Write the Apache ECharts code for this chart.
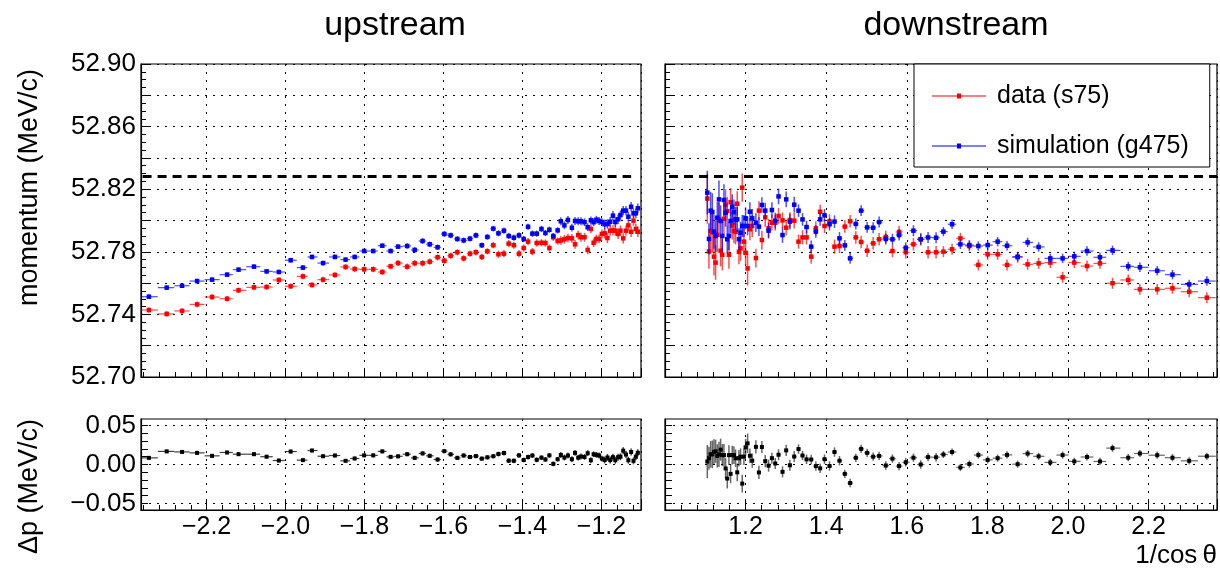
<!DOCTYPE html>
<html>
<head>
<meta charset="utf-8">
<script src="https://cdn.jsdelivr.net/npm/echarts@6.0.0/dist/echarts.min.js"></script>
<style>
  html, body { margin: 0; padding: 0; background: #fff; }
  #chart { width: 1220px; height: 571px; }
</style>
</head>
<body>
<div id="chart"></div>
<script>
// upstream bins (1/cos theta) and fitted momentum (MeV/c)
const upX = [-2.346, -2.301, -2.262, -2.224, -2.186, -2.148, -2.119, -2.080, -2.048, -2.017, -1.987, -1.956, -1.933, -1.905, -1.875, -1.848, -1.825, -1.801, -1.778, -1.755, -1.734, -1.715,
  -1.692, -1.673, -1.653, -1.635, -1.615, -1.598, -1.582, -1.565, -1.549, -1.533, -1.518, -1.503, -1.489, -1.474, -1.461, -1.447, -1.435, -1.422, -1.409, -1.397,
  -1.386, -1.375, -1.364, -1.352, -1.342, -1.332, -1.322, -1.311, -1.303, -1.294, -1.285, -1.275, -1.267, -1.259, -1.252, -1.243, -1.235, -1.227, -1.220, -1.213,
  -1.206, -1.199, -1.192, -1.185, -1.178, -1.171, -1.165, -1.158, -1.152, -1.145, -1.138, -1.132, -1.125, -1.119, -1.113, -1.108];
const upSim = [52.7513, 52.7571, 52.7583, 52.7613, 52.7622, 52.7654, 52.7686, 52.7705, 52.7675, 52.7671, 52.7746, 52.7699, 52.7767, 52.7728, 52.7767, 52.7750, 52.7767, 52.7805, 52.7805, 52.7839, 52.7805, 52.7833,
  52.7837, 52.7812, 52.7869, 52.7848, 52.7829, 52.7914, 52.7905, 52.7882, 52.7873, 52.7884, 52.7905, 52.7842, 52.7895, 52.7948, 52.7918, 52.7935, 52.7901, 52.7890, 52.7905, 52.7882,
  52.7960, 52.7916, 52.7916, 52.7946, 52.7920, 52.7941, 52.7901, 52.7937, 52.7995, 52.7969, 52.8003, 52.7954, 52.7997, 52.7995, 52.7995, 52.7989, 52.7957, 52.8001, 52.7989, 52.8005,
  52.7997, 52.7990, 52.7976, 52.7978, 52.7992, 52.8031, 52.7990, 52.8008, 52.8035, 52.8063, 52.8063, 52.8024, 52.8088, 52.8046, 52.8046, 52.8078];
const upData = [52.7428, 52.7403, 52.7422, 52.7464, 52.7511, 52.7500, 52.7554, 52.7573, 52.7575, 52.7620, 52.7580, 52.7643, 52.7588, 52.7622, 52.7652, 52.7703, 52.7690, 52.7688, 52.7688, 52.7671, 52.7707, 52.7728,
  52.7705, 52.7727, 52.7727, 52.7737, 52.7765, 52.7743, 52.7775, 52.7797, 52.7758, 52.7788, 52.7797, 52.7767, 52.7803, 52.7842, 52.7784, 52.7788, 52.7852, 52.7842, 52.7788, 52.7824,
  52.7865, 52.7801, 52.7856, 52.7858, 52.7856, 52.7824, 52.7893, 52.7869, 52.7873, 52.7880, 52.7888, 52.7886, 52.7848, 52.7907, 52.7893, 52.7893, 52.7812, 52.7946, 52.7858, 52.7882,
  52.7882, 52.7914, 52.7918, 52.7888, 52.7935, 52.7937, 52.7935, 52.7914, 52.7935, 52.7886, 52.7935, 52.7969, 52.7928, 52.7999, 52.7946, 52.7928];
const upSimErr = [0.0015, 0.0015, 0.0015, 0.0015, 0.0015, 0.0015, 0.0015, 0.0015, 0.0015, 0.0015, 0.0015, 0.0015, 0.0015, 0.0015, 0.0015, 0.0015, 0.0015, 0.0015, 0.0015, 0.0015, 0.0015, 0.0015,
  0.0018, 0.0018, 0.0018, 0.0018, 0.0018, 0.0018, 0.0018, 0.0018, 0.0018, 0.0018, 0.0018, 0.0018, 0.0018, 0.0018, 0.002, 0.002, 0.002, 0.002, 0.002, 0.002,
  0.002, 0.002, 0.002, 0.002, 0.002, 0.002, 0.002, 0.002, 0.0025, 0.0025, 0.0025, 0.0025, 0.0025, 0.0025, 0.0025, 0.0025, 0.0025, 0.0025, 0.0025, 0.0025,
  0.0025, 0.0025, 0.003, 0.003, 0.003, 0.003, 0.003, 0.003, 0.003, 0.003, 0.003, 0.003, 0.003, 0.003, 0.003, 0.003];
const upDataErr = [0.0018, 0.0018, 0.0018, 0.0018, 0.0018, 0.0018, 0.0018, 0.0018, 0.0018, 0.0018, 0.0018, 0.0018, 0.0018, 0.0018, 0.0018, 0.0018, 0.0018, 0.0018, 0.0018, 0.0018, 0.0018, 0.0018,
  0.002, 0.002, 0.002, 0.002, 0.002, 0.002, 0.002, 0.002, 0.002, 0.002, 0.002, 0.002, 0.002, 0.002, 0.0023, 0.0023, 0.0023, 0.0023, 0.0023, 0.0023,
  0.0023, 0.0023, 0.0023, 0.0023, 0.0023, 0.0023, 0.0023, 0.0023, 0.0028, 0.0028, 0.0028, 0.0028, 0.0028, 0.0028, 0.0028, 0.0028, 0.0028, 0.0028, 0.0028, 0.0028,
  0.0028, 0.0028, 0.0033, 0.0033, 0.0033, 0.0033, 0.0033, 0.0033, 0.0033, 0.0033, 0.0033, 0.0033, 0.0033, 0.0033, 0.0033, 0.0033];

// downstream bins
const downX = [1.1050, 1.1091, 1.1132, 1.1174, 1.1215, 1.1256, 1.1298, 1.1339, 1.1380, 1.1422, 1.1463, 1.1504, 1.1545, 1.1587, 1.1628, 1.1669, 1.1711, 1.1752, 1.1793, 1.1835, 1.1876, 1.1917, 1.1959, 1.2000,
  1.2050, 1.2107, 1.2165, 1.2256, 1.2331, 1.2405, 1.2488, 1.2570, 1.2653, 1.2736, 1.2818, 1.2917, 1.3008, 1.3099, 1.3207,
  1.3314, 1.3413, 1.3513, 1.3628, 1.3744, 1.3851, 1.3959, 1.4083, 1.4207, 1.4331, 1.4463, 1.4595, 1.4736, 1.4868, 1.5017, 1.5166, 1.5314, 1.5480, 1.5645, 1.5810, 1.5976, 1.6166, 1.6347, 1.6529, 1.6728,
  1.6910, 1.7125, 1.7331, 1.7554, 1.7777, 1.8008, 1.8256, 1.8489, 1.8752, 1.9000, 1.9273, 1.9563, 1.9868, 2.0158, 2.0473, 2.0795, 2.1107, 2.1497, 2.1787, 2.2216, 2.2595, 2.3009, 2.3448];
const downSim = [52.8178, 52.7882, 52.8063, 52.8054, 52.7929, 52.7901, 52.8018, 52.8135, 52.7997, 52.7901, 52.8131, 52.8050, 52.7880, 52.7901, 52.7997, 52.8088, 52.8054, 52.8007, 52.8007, 52.7880, 52.7922, 52.7965, 52.7965, 52.8014,
  52.7965, 52.8056, 52.8014, 52.7986, 52.7961, 52.8099, 52.8063, 52.7935, 52.8067, 52.7999, 52.8154, 52.7907, 52.8135, 52.7993, 52.8101,
  52.8063, 52.8007, 52.7958, 52.7833, 52.7929, 52.8007, 52.8033, 52.7976, 52.7993, 52.7886, 52.7841, 52.7758, 52.7978, 52.8063, 52.7956, 52.7954, 52.7990, 52.7882, 52.7880, 52.7907, 52.7826, 52.7935, 52.7880, 52.7892, 52.7890,
  52.7929, 52.7976, 52.7848, 52.7843, 52.7837, 52.7843, 52.7865, 52.7839, 52.7769, 52.7860, 52.7831, 52.7758, 52.7758, 52.7771, 52.7805, 52.7765, 52.7809, 52.7707, 52.7701, 52.7679, 52.7654, 52.7592, 52.7613];
const downData = [52.8140, 52.7802, 52.7933, 52.7924, 52.7769, 52.7731, 52.7908, 52.8005, 52.7807, 52.7781, 52.8011, 52.8100, 52.8060, 52.7781, 52.8117, 52.7968, 52.7934, 52.7927, 52.8107, 52.7800, 52.7822, 52.8210, 52.7865, 52.7794,
  52.7694, 52.7944, 52.7965, 52.7760, 52.8063, 52.7875, 52.8020, 52.7950, 52.7986, 52.7986, 52.8029, 52.8001, 52.7954, 52.8003, 52.7999,
  52.7865, 52.7892, 52.7892, 52.7769, 52.7950, 52.8056, 52.7965, 52.7995, 52.7833, 52.7837, 52.7961, 52.7995, 52.7892, 52.7863, 52.7807, 52.7854, 52.7880, 52.7895, 52.7805, 52.7927, 52.7797, 52.7848, 52.7880, 52.7797, 52.7797,
  52.7801, 52.7816, 52.7886, 52.7837, 52.7716, 52.7784, 52.7784, 52.7716, 52.7765, 52.7720, 52.7726, 52.7731, 52.7637, 52.7731, 52.7709, 52.7726, 52.7599, 52.7620, 52.7560, 52.7560, 52.7567, 52.7545, 52.7507];
const downSimErr = [0.014, 0.010, 0.012, 0.012, 0.011, 0.010, 0.010, 0.012, 0.010, 0.010, 0.010, 0.009, 0.009, 0.009, 0.008, 0.008, 0.008, 0.008, 0.008, 0.007, 0.007, 0.007, 0.007, 0.007,
  0.006, 0.006, 0.006, 0.006, 0.006, 0.005, 0.005, 0.005, 0.005, 0.005, 0.005, 0.005, 0.005, 0.005, 0.005,
  0.004, 0.004, 0.004, 0.004, 0.004, 0.004, 0.004, 0.004, 0.004, 0.004, 0.0035, 0.0035, 0.0035, 0.0035, 0.0035, 0.0035, 0.0035, 0.0035, 0.0035, 0.0035, 0.0035, 0.0035, 0.0035, 0.0035, 0.0035,
  0.003, 0.003, 0.003, 0.003, 0.003, 0.003, 0.003, 0.003, 0.003, 0.003, 0.003, 0.003, 0.003, 0.003, 0.003, 0.003, 0.003, 0.003, 0.003, 0.003, 0.003, 0.003, 0.003];
const downDataErr = [0.016, 0.011, 0.012, 0.013, 0.012, 0.011, 0.011, 0.011, 0.010, 0.010, 0.010, 0.010, 0.009, 0.009, 0.009, 0.009, 0.008, 0.008, 0.008, 0.008, 0.008, 0.009, 0.008, 0.008,
  0.011, 0.007, 0.007, 0.006, 0.006, 0.006, 0.006, 0.006, 0.005, 0.005, 0.005, 0.005, 0.005, 0.005, 0.005,
  0.0045, 0.0045, 0.0045, 0.0045, 0.0045, 0.0045, 0.0045, 0.0045, 0.0045, 0.0045, 0.004, 0.004, 0.004, 0.004, 0.004, 0.004, 0.004, 0.004, 0.004, 0.004, 0.004, 0.004, 0.004, 0.004, 0.004,
  0.0035, 0.0035, 0.0035, 0.0035, 0.0035, 0.0035, 0.0035, 0.0035, 0.0035, 0.0035, 0.0035, 0.0035, 0.0035, 0.0035, 0.0035, 0.0035, 0.0035, 0.0035, 0.0035, 0.0035, 0.0035, 0.0035, 0.0035];

// reference momentum (dashed line) and axis ranges
const refMomentum = 52.828;
const upRefSpan = [-2.362, -1.125];
const downRefSpan = [1.01, 2.37];
const upRange = [-2.366, -1.1];
const downRange = [1.0, 2.37];
const pRange = [52.70, 52.90];
const dpRange = [-0.0583, 0.0583];
const dpLabels = [-0.05, 0, 0.05];
const dpTicks = [-0.05, -0.04, -0.03, -0.02, -0.01, 0, 0.01, 0.02, 0.03, 0.04, 0.05];

const FONT = '"Liberation Sans", Arial, Helvetica, sans-serif';
const RED = '#ff0000', BLUE = '#0000ff';

// bin edges: halfway to the neighbouring bin centres
function binEdges(xs) {
  const n = xs.length;
  return xs.map((x, i) => {
    const lo = i > 0 ? (xs[i - 1] + x) / 2 : x - (xs[1] - xs[0]) / 2;
    const hi = i < n - 1 ? (x + xs[i + 1]) / 2 : x + (xs[n - 1] - xs[n - 2]) / 2;
    return [lo, hi];
  });
}

function points(xs, ys, errs) {
  const e = binEdges(xs);
  return xs.map((x, i) => [x, ys[i], e[i][0], e[i][1], errs[i]]);
}

// residual = simulation - data
function residuals(xs, sim, data, es, ed) {
  const e = binEdges(xs);
  return xs.map((x, i) => [x, sim[i] - data[i], e[i][0], e[i][1], Math.sqrt(es[i] * es[i] + ed[i] * ed[i])]);
}

function errRender(color, barOpacity, size) {
  return function (params, api) {
    const x = api.value(0), y = api.value(1);
    const c = api.coord([x, y]);
    const l = api.coord([api.value(2), y]);
    const r = api.coord([api.value(3), y]);
    const t = api.coord([x, y + api.value(4)]);
    const b = api.coord([x, y - api.value(4)]);
    return {
      type: 'group',
      children: [
        { type: 'line', shape: { x1: l[0], y1: c[1], x2: r[0], y2: c[1] }, style: { stroke: color, lineWidth: 1.2, opacity: barOpacity } },
        { type: 'line', shape: { x1: c[0], y1: t[1], x2: c[0], y2: b[1] }, style: { stroke: color, lineWidth: 1.5, opacity: barOpacity } },
        { type: 'rect', shape: { x: c[0] - size / 2, y: c[1] - size / 2, width: size, height: size }, style: { fill: color } }
      ]
    };
  };
}

const dotted = { color: '#000', type: [2, 6], width: 1 };

function refLine(span) {
  return {
    silent: true, symbol: ['none', 'none'], label: { show: false }, animation: false,
    lineStyle: { color: '#000', type: [9, 6], width: 3 },
    data: [[{ coord: [span[0], refMomentum] }, { coord: [span[1], refMomentum] }]]
  };
}

const zeroLines = {
  silent: true, symbol: ['none', 'none'], label: { show: false }, animation: false,
  lineStyle: dotted,
  data: dpLabels.map(v => ({ yAxis: v }))
};

const fmtX = v => (v < 0 ? '\u2212' : '') + Math.abs(v).toFixed(1);
const fmtDp = v => (v < -1e-9 ? '\u2212' : '') + Math.abs(v).toFixed(2);

function xAxisCfg(grid, range, labels) {
  return {
    type: 'value', gridIndex: grid, min: range[0], max: range[1], splitNumber: 6,
    axisLine: { show: true, onZero: false, lineStyle: { color: '#000', width: 1.2 } },
    axisTick: { show: true, inside: true, length: 9, lineStyle: { color: '#000' } },
    minorTick: { show: true, splitNumber: 5, length: 5, lineStyle: { color: '#000' } },
    splitLine: { show: true, lineStyle: dotted },
    axisLabel: { show: labels, showMinLabel: false, showMaxLabel: false, formatter: fmtX, fontSize: 25, color: '#000', fontFamily: FONT, margin: 5 }
  };
}

function pAxisCfg(grid, labels) {
  return {
    type: 'value', gridIndex: grid, min: pRange[0], max: pRange[1], interval: 0.02,
    axisLine: { show: true, onZero: false, lineStyle: { color: '#000', width: 1.2 } },
    axisTick: { show: true, inside: true, length: 9, lineStyle: { color: '#000' } },
    minorTick: { show: true, splitNumber: 4, length: 5, lineStyle: { color: '#000' } },
    splitLine: { show: true, lineStyle: dotted },
    axisLabel: {
      show: labels, fontSize: 26, color: '#000', fontFamily: FONT, margin: 5,
      formatter: v => (Math.round(v * 100) % 4 === 2 ? v.toFixed(2) : '')
    }
  };
}

function dpAxisCfg(grid, labels) {
  return {
    type: 'value', gridIndex: grid, min: dpRange[0], max: dpRange[1],
    axisLine: { show: true, onZero: false, lineStyle: { color: '#000', width: 1.2 } },
    axisTick: { show: true, inside: true, length: 7, customValues: dpTicks, lineStyle: { color: '#000' } },
    splitLine: { show: false },
    axisLabel: { show: labels, customValues: dpLabels, formatter: fmtDp, fontSize: 26, color: '#000', fontFamily: FONT, margin: 5 }
  };
}

function errSeries(name, xi, yi, data, color, opacity, size, extra) {
  return Object.assign({
    type: 'custom', name: name, xAxisIndex: xi, yAxisIndex: yi, clip: true,
    itemStyle: { color: color },
    encode: { x: 0, y: 1 },
    renderItem: errRender(color, opacity, size),
    data: data
  }, extra || {});
}

const legendIcon = 'path://M0,2.5H54V3.5H0Z M25,0.5H29V5.5H25Z';
const frame = { show: true, borderColor: '#000', borderWidth: 1.2, backgroundColor: 'transparent' };

const chart = echarts.init(document.getElementById('chart'), null, { renderer: 'canvas' });
chart.setOption({
  animation: false,
  backgroundColor: '#fff',
  textStyle: { fontFamily: FONT },
  grid: [
    Object.assign({ left: 141, top: 64, width: 500, height: 313 }, frame),
    Object.assign({ left: 665, top: 64, width: 552, height: 313 }, frame),
    Object.assign({ left: 141, top: 419, width: 500, height: 91 }, frame),
    Object.assign({ left: 665, top: 419, width: 552, height: 91 }, frame)
  ],
  xAxis: [
    xAxisCfg(0, upRange, false),
    xAxisCfg(1, downRange, false),
    xAxisCfg(2, upRange, true),
    xAxisCfg(3, downRange, true)
  ],
  yAxis: [
    pAxisCfg(0, true),
    pAxisCfg(1, false),
    dpAxisCfg(2, true),
    dpAxisCfg(3, false)
  ],
  legend: {
    data: [
      { name: 'data (s75)', icon: legendIcon },
      { name: 'simulation (g475)', icon: legendIcon }
    ],
    orient: 'vertical', left: 914, top: 64,
    itemWidth: 54, itemHeight: 6, itemGap: 20,
    padding: [17, 21, 6, 18],
    backgroundColor: '#fff', borderColor: '#000', borderWidth: 1,
    selectedMode: false,
    textStyle: { fontSize: 25, color: '#000', fontFamily: FONT, lineHeight: 30, padding: [0, 0, 0, 6] }
  },
  graphic: [
    { type: 'text', x: 395, y: 26, style: { text: 'upstream', font: '34px ' + FONT, fill: '#000', align: 'center', verticalAlign: 'middle', textAlign: 'center', textVerticalAlign: 'middle' } },
    { type: 'text', x: 956, y: 26, style: { text: 'downstream', font: '34px ' + FONT, fill: '#000', align: 'center', verticalAlign: 'middle', textAlign: 'center', textVerticalAlign: 'middle' } },
    { type: 'text', x: 30, y: 69, rotation: Math.PI / 2, style: { text: 'momentum (MeV/c)', font: '27px ' + FONT, fill: '#000', align: 'right', verticalAlign: 'middle', textAlign: 'right', textVerticalAlign: 'middle' } },
    { type: 'text', x: 30, y: 419, rotation: Math.PI / 2, style: { text: '\u0394p (MeV/c)', font: '27px ' + FONT, fill: '#000', align: 'right', verticalAlign: 'middle', textAlign: 'right', textVerticalAlign: 'middle' } },
    { type: 'text', x: 1217, y: 556, style: { text: '1/cos\u2009\u03b8', font: '26px ' + FONT, fill: '#000', align: 'right', verticalAlign: 'middle', textAlign: 'right', textVerticalAlign: 'middle' } }
  ],
  series: [
    errSeries('data (s75)', 0, 0, points(upX, upData, upDataErr), RED, 0.7, 4.5),
    errSeries('simulation (g475)', 0, 0, points(upX, upSim, upSimErr), BLUE, 0.7, 4.5, { markLine: refLine(upRefSpan) }),
    errSeries('data (s75)', 1, 1, points(downX, downData, downDataErr), RED, 0.7, 4.5),
    errSeries('simulation (g475)', 1, 1, points(downX, downSim, downSimErr), BLUE, 0.7, 4.5, { markLine: refLine(downRefSpan) }),
    errSeries('residual upstream', 2, 2, residuals(upX, upSim, upData, upSimErr, upDataErr), '#000', 0.75, 4, { markLine: zeroLines }),
    errSeries('residual downstream', 3, 3, residuals(downX, downSim, downData, downSimErr, downDataErr), '#000', 0.6, 4, { markLine: zeroLines })
  ]
});
</script>
</body>
</html>
